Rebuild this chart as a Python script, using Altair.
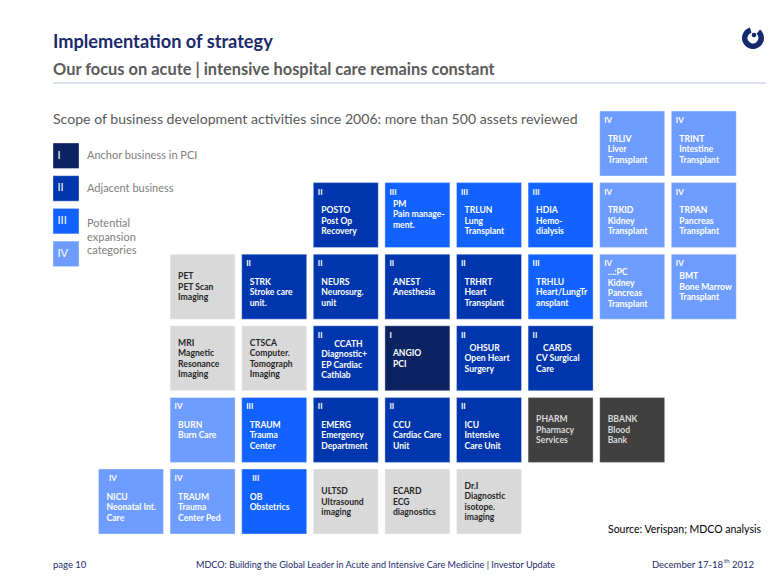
import altair as alt
import pandas as pd

# ---------------- data ----------------
tile_cols = [7, 8,
             3, 4, 5, 6, 7, 8,
             1, 2, 3, 4, 5, 6, 7, 8,
             1, 2, 3, 4, 5, 6,
             1, 2, 3, 4, 5, 6, 7,
             0, 1, 2, 3, 4, 5]
tile_rows = [0, 0,
             1, 1, 1, 1, 1, 1,
             2, 2, 2, 2, 2, 2, 2, 2,
             3, 3, 3, 3, 3, 3,
             4, 4, 4, 4, 4, 4, 4,
             5, 5, 5, 5, 5, 5]
tile_levels = ["IV", "IV",
               "II", "III", "III", "III", "IV", "IV",
               "G", "II", "II", "II", "II", "III", "IV", "IV",
               "G", "G", "II", "I", "II", "II",
               "IV", "III", "II", "II", "II", "D", "D",
               "IV", "IV", "III", "G", "G", "G"]
tile_labels = [
    "TRLIV\nLiver\nTransplant", "TRINT\nIntestine\nTransplant",
    "POSTO\nPost Op\nRecovery", "PM\nPain manage-\nment.", "TRLUN\nLung\nTransplant",
    "HDIA\nHemo-\ndialysis", "TRKID\nKidney\nTransplant", "TRPAN\nPancreas\nTransplant",
    "PET\nPET Scan\nImaging", "STRK\nStroke care\nunit.", "NEURS\nNeurosurg.\nunit",
    "ANEST\nAnesthesia", "TRHRT\nHeart\nTransplant", "TRHLU\nHeart/LungTr\nansplant",
    "\u2026:PC\nKidney\nPancreas\nTransplant", "BMT\nBone Marrow\nTransplant",
    "MRI\nMagnetic\nResonance\nImaging", "CTSCA\nComputer.\nTomograph\nImaging",
    "CCATH\nDiagnostic+\nEP Cardiac\nCathlab", "ANGIO\nPCI",
    "OHSUR\nOpen Heart\nSurgery", "CARDS\nCV Surgical\nCare",
    "BURN\nBurn Care", "TRAUM\nTrauma\nCenter", "EMERG\nEmergency\nDepartment",
    "CCU\nCardiac Care\nUnit", "ICU\nIntensive\nCare Unit",
    "PHARM\nPharmacy\nServices", "BBANK\nBlood\nBank",
    "NICU\nNeonatal Int.\nCare", "TRAUM\nTrauma\nCenter Ped", "OB\nObstetrics",
    "ULTSD\nUltrasound\nimaging", "ECARD\nECG\ndiagnostics",
    "Dr.I\nDiagnostic\nisotope.\nimaging",
]

legend_levels = ["I", "II", "III", "IV"]
legend_texts = ["Anchor business in PCI", "Adjacent business",
                "Potential\nexpansion\ncategories"]

# ---------------- styles / layout ----------------
FILL = {"I": "#0b2461", "II": "#0036ad", "III": "#1262ff", "IV": "#6e9dff",
        "G": "#d9d9d9", "D": "#404040"}
TXT = {"I": "#ffffff", "II": "#ffffff", "III": "#ffffff", "IV": "#ffffff",
       "G": "#262626", "D": "#d9d9d9"}
X0, Y0, PITCH, TILE, LH = 90.5, 103.0, 71.6, 65.0, 10.5
START_EXC = {"PM": 21, "OHSUR": 22, "CARDS": 22, "BMT": 22}
FIRST_INDENT = {"CCATH": 13, "OHSUR": 5, "CARDS": 7}
NUM_INDENT = {(0, 5): 6, (2, 5): 6}
NAVY = "#1b2a6b"
FONT = "Lato"

W, H = 764, 569
xs = alt.Scale(domain=[0, W], range=[0, W])
ys = alt.Scale(domain=[0, H], range=[0, H])

rect_rows, line_rows, num_rows = [], [], []
for c, r, lv, lab in zip(tile_cols, tile_rows, tile_levels, tile_labels):
    x0 = X0 + c * PITCH
    y0 = Y0 + r * PITCH
    rect_rows.append(dict(x=x0, x2=x0 + TILE, y=y0, y2=y0 + TILE, fill=FILL[lv]))
    lines = lab.split("\n")
    n = len(lines)
    key = lines[0]
    if lv in ("G", "D"):
        start = TILE / 2 - (n - 1) * LH / 2
    else:
        start = START_EXC.get(key, 27.5 if n <= 3 else 18)
        num_rows.append(dict(x=x0 + 4.5 + NUM_INDENT.get((c, r), 0), y=y0 + 10,
                             t=lv, c=TXT[lv]))
    for i, t in enumerate(lines):
        ind = FIRST_INDENT.get(key, 0) if i == 0 else 0
        line_rows.append(dict(x=x0 + 8 + ind, y=y0 + start + i * LH, t=t, c=TXT[lv]))

rects = pd.DataFrame(rect_rows)
lines_df = pd.DataFrame(line_rows)
nums_df = pd.DataFrame(num_rows)

leg_rows = []
for i, lv in enumerate(legend_levels):
    y0 = 135 + i * 32.7
    leg_rows.append(dict(x=45, x2=71, y=y0, y2=y0 + 25.5, fill=FILL[lv], t=lv,
                         tx=49.5, ty=y0 + 12.75))
leg_df = pd.DataFrame(leg_rows)

leg_text_rows = []
ly = [148, 181, 216]
for yy, txt in zip(ly, legend_texts):
    for j, part in enumerate(txt.split("\n")):
        leg_text_rows.append(dict(x=79, y=yy + j * 13.5, t=part))
leg_text_df = pd.DataFrame(leg_text_rows)


def X(f):
    return alt.X(f, type="quantitative", scale=xs, axis=None)


def Y(f):
    return alt.Y(f, type="quantitative", scale=ys, axis=None)


tiles = alt.Chart(rects).mark_rect(stroke="#ffffff", strokeOpacity=0.35, strokeWidth=1).encode(
    x=X("x"), x2="x2", y=Y("y"), y2="y2", color=alt.Color("fill:N", scale=None))

tile_text = alt.Chart(lines_df).mark_text(
    align="left", baseline="middle", fontSize=8.6, fontWeight="bold", font=FONT).encode(
    x=X("x"), y=Y("y"), text="t:N", color=alt.Color("c:N", scale=None))

tile_nums = alt.Chart(nums_df).mark_text(
    align="left", baseline="middle", fontSize=8, fontWeight="bold", font=FONT).encode(
    x=X("x"), y=Y("y"), text="t:N", color=alt.Color("c:N", scale=None))

leg_boxes = alt.Chart(leg_df).mark_rect(stroke="#ffffff", strokeOpacity=0.35).encode(
    x=X("x"), x2="x2", y=Y("y"), y2="y2", color=alt.Color("fill:N", scale=None))
leg_nums = alt.Chart(leg_df).mark_text(
    align="left", baseline="middle", fontSize=11, color="#ffffff", font=FONT).encode(
    x=X("tx"), y=Y("ty"), text="t:N")
leg_labels = alt.Chart(leg_text_df).mark_text(
    align="left", baseline="middle", fontSize=11, color="#808080", font=FONT).encode(
    x=X("x"), y=Y("y"), text="t:N")


def label(text, x, y, size, color, weight="normal", align="left"):
    return alt.Chart(pd.DataFrame({"t": [text]})).mark_text(
        align=align, baseline="middle", fontSize=size, color=color,
        fontWeight=weight, font=FONT).encode(
        x=alt.value(x), y=alt.value(y), text="t:N")


title = label("Implementation of strategy", 45, 35, 18.2, NAVY, "bold")
subtitle = label("Our focus on acute | intensive hospital care remains constant",
                 45, 62, 16.4, "#5a5a5a", "bold")
scope = label("Scope of business development activities since 2006: more than 500 assets reviewed",
              45, 112, 14.1, "#595959")
source = label("Source: Verispan; MDCO analysis", 753, 522, 10.5, "#000000", align="right")
foot1 = label("page 10", 45, 557, 9.5, NAVY)
foot2 = label("MDCO: Building the Global Leader in Acute and Intensive Care Medicine | Investor Update",
              188, 557, 9.1, NAVY)
foot3 = label("December 17-18", 715, 557, 9.5, NAVY, align="right")
foot3b = label("th", 716, 553, 6, NAVY)
foot3c = label("2012", 746, 557, 9.5, NAVY, align="right")

hline = alt.Chart(pd.DataFrame({"a": [0]})).mark_rule(color="#b9c5e2", strokeWidth=1).encode(
    x=alt.value(45), x2=alt.value(758), y=alt.value(75))

logo_ring = alt.Chart(pd.DataFrame({"a": [0]})).mark_arc(
    radius=11, radius2=5.5, theta=0.7, theta2=6.0, color="#152a6e").encode(
    x=alt.value(745), y=alt.value(30))
logo_dot = alt.Chart(pd.DataFrame({"a": [0]})).mark_point(
    filled=True, size=22, color="#152a6e", opacity=1).encode(
    x=alt.value(746), y=alt.value(27))

chart = alt.layer(
    hline, tiles, tile_text, tile_nums, leg_boxes, leg_nums, leg_labels,
    title, subtitle, scope, source, foot1, foot2, foot3, foot3b, foot3c,
    logo_ring, logo_dot,
).properties(
    width=W, height=H, autosize=alt.AutoSizeParams(type="none"), padding=0,
    background="#ffffff",
).configure_view(stroke=None)

chart.save("out.html", embed_options={"renderer": "svg", "actions": False})
